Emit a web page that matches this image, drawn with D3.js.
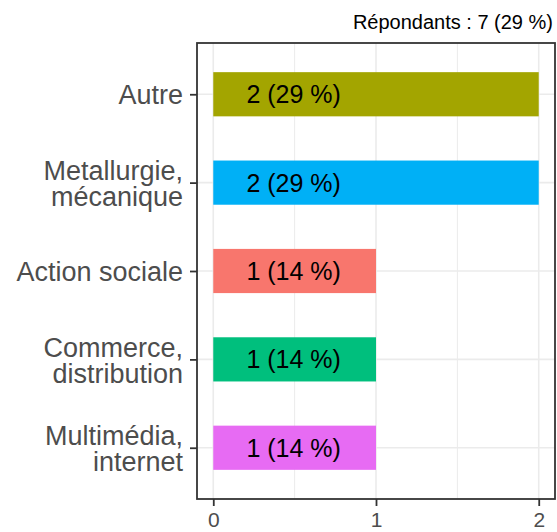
<!DOCTYPE html>
<html lang="fr">
<head>
<meta charset="utf-8">
<title>Répondants</title>
<script src="https://cdn.jsdelivr.net/npm/d3@7"></script>
<style>
    body { margin: 0; background: #fff; }
    svg { display: block; font-family: "Liberation Sans", Arial, sans-serif; }
</style>
</head>
<body>
<script>
    // data (top to bottom)
    var categories = ['Autre', 'Metallurgie,\nmécanique', 'Action sociale',
        'Commerce,\ndistribution', 'Multimédia,\ninternet'];
    var counts = [2, 2, 1, 1, 1];
    var percents = [29, 29, 14, 14, 14];
    var colors = ['#A3A500', '#00B0F6', '#F8766D', '#00BF7D', '#E76BF3'];
    var xTicks = [0, 1, 2];
    var title = 'Répondants : 7 (29 %)';

    var W = 557, H = 532;
    var panel = {left: 197, right: 555, top: 43, bottom: 499};

    var svg = d3.select('body').append('svg')
        .attr('width', W)
        .attr('height', H);

    var x = d3.scaleLinear()
        .domain([-0.1, 2.1])
        .range([panel.left, panel.right]);

    var y = d3.scalePoint()
        .domain(categories)
        .range([panel.top, panel.bottom])
        .padding(0.58);

    var barH = y.step() * 0.5;

    // grid
    var grid = svg.append('g');
    grid.selectAll('.minor')
        .data([0.5, 1.5])
        .enter().append('line')
        .attr('x1', function (d) { return x(d); })
        .attr('x2', function (d) { return x(d); })
        .attr('y1', panel.top).attr('y2', panel.bottom)
        .attr('stroke', '#EBEBEB').attr('stroke-width', 1);
    grid.selectAll('.majx')
        .data(xTicks)
        .enter().append('line')
        .attr('x1', function (d) { return x(d); })
        .attr('x2', function (d) { return x(d); })
        .attr('y1', panel.top).attr('y2', panel.bottom)
        .attr('stroke', '#EBEBEB').attr('stroke-width', 1.6);
    grid.selectAll('.majy')
        .data(categories)
        .enter().append('line')
        .attr('x1', panel.left).attr('x2', panel.right)
        .attr('y1', function (d) { return y(d); })
        .attr('y2', function (d) { return y(d); })
        .attr('stroke', '#EBEBEB').attr('stroke-width', 1.6);

    // bars
    svg.selectAll('.bar')
        .data(categories)
        .enter().append('rect')
        .attr('x', x(0))
        .attr('y', function (d) { return y(d) - barH / 2; })
        .attr('width', function (d, i) { return x(counts[i]) - x(0); })
        .attr('height', barH)
        .attr('fill', function (d, i) { return colors[i]; });

    // value labels (all sit at the same spot, x = 0.5)
    svg.selectAll('.lab')
        .data(categories)
        .enter().append('text')
        .attr('x', x(0.5) - 1)
        .attr('y', function (d) { return y(d); })
        .attr('dy', '0.36em')
        .attr('text-anchor', 'middle')
        .attr('font-size', 25)
        .attr('fill', '#000')
        .text(function (d, i) { return counts[i] + ' (' + percents[i] + ' %)'; });

    // panel border
    svg.append('rect')
        .attr('x', panel.left).attr('y', panel.top)
        .attr('width', panel.right - panel.left)
        .attr('height', panel.bottom - panel.top)
        .attr('fill', 'none')
        .attr('stroke', '#333333')
        .attr('stroke-width', 1.8);

    // axes
    var xAxis = svg.append('g')
        .attr('transform', 'translate(0,' + panel.bottom + ')')
        .call(d3.axisBottom(x).tickValues(xTicks).tickFormat(d3.format('d'))
            .tickSize(7).tickPadding(6));
    var yAxis = svg.append('g')
        .attr('transform', 'translate(' + panel.left + ',0)')
        .call(d3.axisLeft(y).tickSize(7).tickPadding(7).tickFormat(''));

    [xAxis, yAxis].forEach(function (g) {
        g.select('.domain').remove();
        g.selectAll('.tick line').attr('stroke', '#333333').attr('stroke-width', 1.8);
    });
    xAxis.selectAll('.tick text')
        .attr('font-size', 21)
        .attr('fill', '#4D4D4D');

    // multi-line category labels
    yAxis.selectAll('.tick').each(function (d) {
        var lines = d.split('\n');
        var lh = 26;
        var t = d3.select(this).select('text')
            .attr('font-size', 27)
            .attr('fill', '#4D4D4D')
            .attr('x', -14)
            .attr('dy', null)
            .attr('y', 0);
        t.selectAll('tspan')
            .data(lines)
            .enter().append('tspan')
            .attr('x', -14)
            .attr('y', function (l, i) { return (i - (lines.length - 1) / 2) * lh; })
            .attr('dy', '0.36em')
            .text(function (l) { return l; });
    });

    svg.append('text')
        .attr('x', 553)
        .attr('y', 29)
        .attr('text-anchor', 'end')
        .attr('font-size', 20)
        .attr('fill', '#000')
        .text(title);
</script>
</body>
</html>
